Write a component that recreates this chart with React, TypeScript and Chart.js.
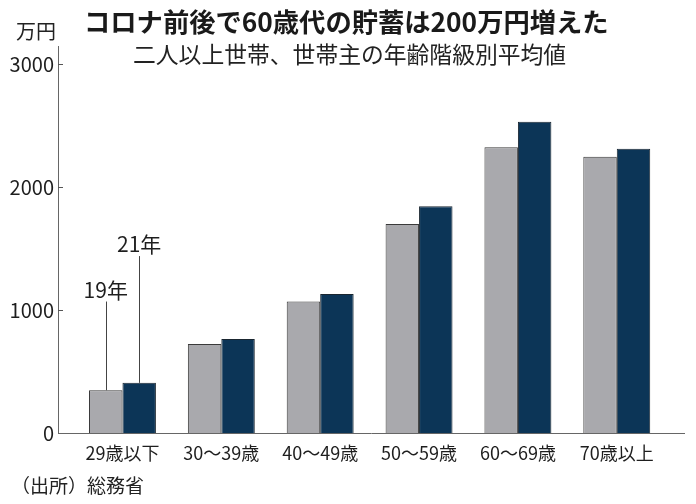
import React, { useEffect, useRef } from "react";
import { Chart, registerables } from "chart.js";

Chart.register(...registerables);

const categories = ["29歳以下", "30～39歳", "40～49歳", "50～59歳", "60～69歳", "70歳以上"];
const values2019 = [348, 725, 1070, 1701, 2326, 2248];
const values2021 = [408, 766, 1131, 1845, 2533, 2313];
const seriesLabels = ["19年", "21年"];
const calloutTops = [1070, 1440];
const yTicks = [0, 1000, 2000, 3000];

const titleText = "コロナ前後で60歳代の貯蓄は200万円増えた";
const subtitleText = "二人以上世帯、世帯主の年齢階級別平均値";
const unitText = "万円";
const sourceText = "（出所）総務省";

const CJK = "'Noto Sans CJK JP', 'Noto Sans', sans-serif";
const NUM = "'Liberation Sans Narrow', 'Noto Sans CJK JP', sans-serif";

const decorPlugin = {
  id: "decor",
  afterDraw(chart: any) {
    const ctx = chart.ctx as CanvasRenderingContext2D;
    const xs = chart.scales.x;
    const ys = chart.scales.y;
    ctx.save();
    // inner tick marks on y axis
    ctx.strokeStyle = "#555";
    ctx.lineWidth = 1;
    yTicks.forEach((v) => {
      const py = Math.round(ys.getPixelForValue(v)) + 0.5;
      if (v === 0) return;
      ctx.beginPath();
      ctx.moveTo(xs.left, py);
      ctx.lineTo(xs.left + 5, py);
      ctx.stroke();
    });
    // callouts
    [0, 1].forEach((i) => {
      const bar: any = chart.getDatasetMeta(i).data[0];
      const bx = Math.round(bar.x) + 0.5;
      const topY = ys.getPixelForValue(calloutTops[i]);
      ctx.strokeStyle = "#444";
      ctx.beginPath();
      ctx.moveTo(bx, topY);
      ctx.lineTo(bx, bar.y);
      ctx.stroke();
      ctx.fillStyle = "#1e1e1e";
      ctx.font = `21px ${CJK}`;
      ctx.textAlign = "center";
      ctx.textBaseline = "alphabetic";
      ctx.fillText(seriesLabels[i], bar.x, topY - 4);
    });
    // titles
    ctx.textAlign = "left";
    ctx.textBaseline = "middle";
    ctx.fillStyle = "#1a1a1a";
    ctx.font = `bold 26.3px ${CJK}`;
    ctx.fillText(titleText, 84, 22);
    ctx.fillStyle = "#222";
    ctx.font = `22.8px ${CJK}`;
    ctx.fillText(subtitleText, 133, 54);
    ctx.font = `20px ${CJK}`;
    ctx.fillText(unitText, 16, 31);
    ctx.font = `19px ${CJK}`;
    ctx.fillText(sourceText, 11, 486);
    ctx.restore();
  },
};

export default function App() {
  const ref = useRef<HTMLCanvasElement>(null);
  useEffect(() => {
    const canvas = ref.current;
    if (!canvas) return;
    const chart = new Chart(canvas, {
      type: "bar",
      data: {
        datasets: [
          {
            label: seriesLabels[0],
            data: values2019.map((v, i) => ({ x: i, y: v })),
            backgroundColor: "#a9a9ad",
            borderColor: "#3a3a3a",
            borderWidth: 1,
            categoryPercentage: 0.677,
            barPercentage: 1,
          },
          {
            label: seriesLabels[1],
            data: values2021.map((v, i) => ({ x: i, y: v })),
            backgroundColor: "#0c3557",
            borderColor: "#1a2630",
            borderWidth: 1,
            categoryPercentage: 0.677,
            barPercentage: 1,
          },
        ],
      },
      options: {
        responsive: false,
        animation: false,
        devicePixelRatio: 1,
        layout: { padding: { top: 46, right: 12, left: 0, bottom: 0 } },
        plugins: {
          legend: { display: false },
          tooltip: { enabled: false },
          title: { display: false },
        },
        scales: {
          x: {
            type: "linear",
            offset: false,
            min: -0.652,
            max: 5.68,
            grid: { display: false, drawTicks: false },
            border: { display: true, color: "#666", width: 1 },
            afterBuildTicks: (scale: any) => {
              scale.ticks = categories.map((_, i) => ({ value: i }));
            },
            afterFit: (scale: any) => {
              scale.height = 71;
            },
            ticks: {
              autoSkip: false,
              maxRotation: 0,
              padding: 9,
              color: "#1e1e1e",
              font: { family: CJK, size: 18 },
              callback: (v: any) => categories[Math.round(Number(v))],
            },
          },
          y: {
            min: 0,
            max: 3150,
            grid: { display: false, drawTicks: false },
            border: { display: true, color: "#666", width: 1 },
            afterBuildTicks: (scale: any) => {
              scale.ticks = yTicks.map((v) => ({ value: v }));
            },
            afterFit: (scale: any) => {
              scale.width = 58;
            },
            ticks: {
              padding: 4,
              color: "#1e1e1e",
              font: { family: NUM, size: 20 },
              callback: (v: any) => String(v),
            },
          },
        },
      },
      plugins: [decorPlugin],
    } as any);
    return () => chart.destroy();
  }, []);
  return (
    <div style={{ position: "absolute", left: 0, top: 0, width: 696, height: 504, background: "#fff" }}>
      <canvas ref={ref} width={696} height={504} />
    </div>
  );
}
